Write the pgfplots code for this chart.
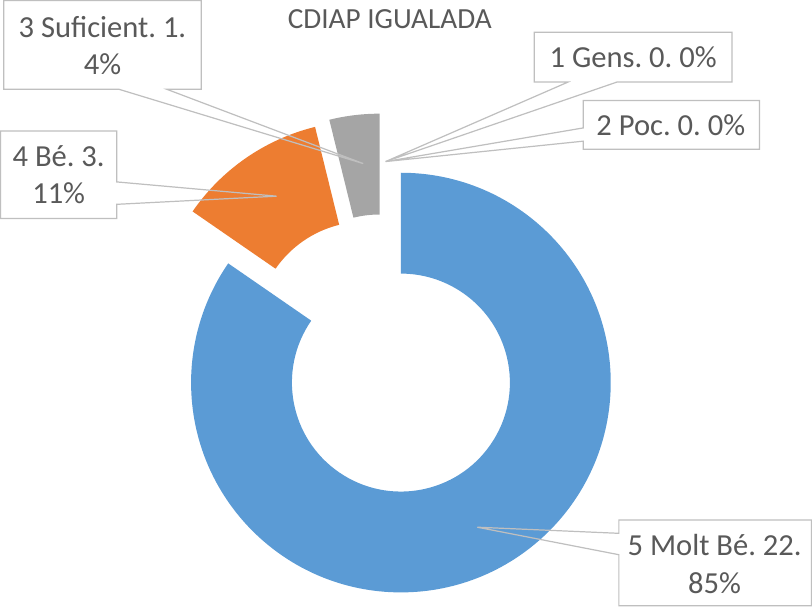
\documentclass[border=0pt]{standalone}
\usepackage{pgfplots}
\pgfplotsset{compat=1.18}
\usepackage{fontspec}
\setmainfont{Carlito}
\frenchspacing
\definecolor{cblue}{HTML}{5B9BD5}
\definecolor{corange}{HTML}{ED7D31}
\definecolor{cgray}{HTML}{A5A5A5}
\definecolor{ctext}{HTML}{595959}
\definecolor{cline}{HTML}{BFBFBF}
% data: category values
\def\vMoltBe{22}
\def\vBe{3}
\def\vSuficient{1}
\def\vPoc{0}
\def\vGens{0}
\begin{document}
\begin{tikzpicture}
\pgfmathsetmacro\tot{\vMoltBe+\vBe+\vSuficient+\vPoc+\vGens}
\pgfmathsetmacro\aA{90}
\pgfmathsetmacro\aB{\aA-360*\vMoltBe/\tot}
\pgfmathsetmacro\aC{\aB-360*\vBe/\tot}
\pgfmathsetmacro\aD{\aC-360*\vSuficient/\tot}
\def\Ro{154.5pt}
\def\Rd{74.25pt}
\def\Ri{80.25pt}
\newcommand\slice[5]{%
  \fill[#5] (axis cs:#1,#2) ++(#3:\Ro) arc[start angle=#3,end angle=#4,radius=\Ro]
     -- ++(#4:-\Rd) arc[start angle=#4,end angle=#3,radius=\Ri] -- cycle;}
\begin{axis}[x=0.75pt,y=0.75pt,y dir=reverse,xmin=0,xmax=812,ymin=0,ymax=604,
  hide axis,clip=false,scale only axis]
\slice{403}{383}{\aA}{\aB}{cblue}
\slice{368}{332}{\aB}{\aC}{corange}
\slice{382}{325}{\aC}{\aD}{cgray}
% title
\node[text=ctext,font=\fontsize{21.5}{25}\selectfont] at (axis cs:392,26) {CDIAP IGUALADA};
% callouts
\tikzset{cout/.style={draw=cline,line width=0.9pt,line join=miter},
  ltxt/.style={text=ctext,align=center,font=\fontsize{22.5}{27.75}\selectfont}}
% 3 Suficient
\fill[white] (axis cs:13,8) rectangle (axis cs:207,95);
\draw[cout] (axis cs:13,8) -- (axis cs:207,8) -- (axis cs:207,95) -- (axis cs:173,95) -- (axis cs:366,168) -- (axis cs:126,95) -- (axis cs:13,95) -- cycle;
\node[ltxt] at (axis cs:110,52) {3 Suficient. 1.\\4\%};
% 4 Be
\fill[white] (axis cs:10,136) rectangle (axis cs:124,222);
\draw[cout] (axis cs:10,136) -- (axis cs:124,136) -- (axis cs:124,186) -- (axis cs:281,200) -- (axis cs:124,208) -- (axis cs:124,222) -- (axis cs:10,222) -- cycle;
\node[ltxt] at (axis cs:67,179) {4 Bé. 3.\\11\%};
% 1 Gens
\fill[white] (axis cs:534,39) rectangle (axis cs:728,88);
\draw[cout] (axis cs:534,39) -- (axis cs:728,39) -- (axis cs:728,88) -- (axis cs:615,88) -- (axis cs:388,166) -- (axis cs:567,88) -- (axis cs:534,88) -- cycle;
\node[ltxt] at (axis cs:631,64) {1 Gens. 0. 0\%};
% 2 Poc
\fill[white] (axis cs:582,106) rectangle (axis cs:755,154);
\draw[cout] (axis cs:582,106) -- (axis cs:755,106) -- (axis cs:755,154) -- (axis cs:582,154) -- (axis cs:582,146) -- (axis cs:388,166) -- (axis cs:582,133) -- cycle;
\node[ltxt] at (axis cs:668,130) {2 Poc. 0. 0\%};
% 5 Molt Be
\fill[white] (axis cs:617,518) rectangle (axis cs:806,602);
\draw[cout] (axis cs:617,518) -- (axis cs:806,518) -- (axis cs:806,602) -- (axis cs:617,602) -- (axis cs:617,552) -- (axis cs:478,525) -- (axis cs:617,531) -- cycle;
\node[ltxt] at (axis cs:711,561) {5 Molt Bé. 22.\\85\%};
\end{axis}
\end{tikzpicture}
\end{document}
